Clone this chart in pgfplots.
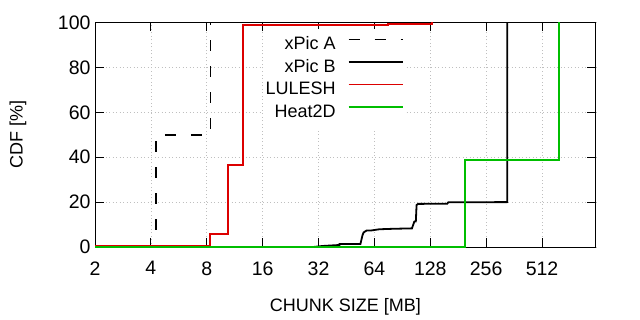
\documentclass[border=0pt]{standalone}
\usepackage{fontspec}
\setmainfont{Liberation Sans}
\usepackage{pgfplots}
\pgfplotsset{compat=1.18}
\definecolor{myred}{RGB}{220,0,0}
\definecolor{mygreen}{RGB}{0,190,0}
\begin{document}
\begin{tikzpicture}[font=\fontsize{18bp}{21bp}\selectfont]
\begin{axis}[
  scale only axis, width=501bp, height=224.5bp,
  at={(0,0)}, anchor=south west,
  xmode=log, log basis x=2, xmin=2, xmax=1000, ymin=0, ymax=100,
  xtick={2,4,8,16,32,64,128,256,512},
  xticklabels={2,4,8,16,32,64,128,256,512},
  ytick={0,20,40,60,80,100},
  xminorticks=false, yminorticks=false,
  /pgf/number format/assume math mode=true,
  tick label style={font=\fontsize{19.5bp}{22bp}\selectfont},
  tick align=inside, major tick length=9bp,
  tick style={black, line width=1bp},
  grid=major, grid style={dash pattern=on 1bp off 2.5bp, gray!50, line width=0.7bp},
  axis line style={line width=1bp},
  xticklabel style={yshift=-11bp},
  yticklabel style={xshift=-1bp},
  xlabel={CHUNK SIZE [MB]}, ylabel={CDF [\%]},
  x label style={at={(axis description cs:0.5,0)}, anchor=base, yshift=-64.5bp},
  y label style={at={(axis description cs:-0.1537,0.5)}, anchor=center, rotate=0},
  clip=false,
  legend style={at={(rel axis cs:0.622,1)}, anchor=north east, yshift=-6bp, draw=none, fill=white,
    inner xsep=3bp, inner ysep=8bp, row sep=6bp, column sep=12bp,
    nodes={inner sep=0pt, text height=13bp, text depth=3.5bp}},
  legend cell align=right, legend plot pos=right,
  legend image code/.code={\draw[#1] (0bp,5.5bp) -- (54bp,5.5bp);},
]
\addplot[black, line width=1.8bp, dash pattern=on 11bp off 15bp] coordinates {
 (2,0) (4.25,0) (4.25,50) (8.38,50) (8.38,100)};
\addlegendentry{xPic A}
\addplot[black, line width=1.8bp] coordinates {
 (2,0) (30,0) (33.6,0.45) (41.5,0.9) (41.5,1.3) (53.8,1.3) (55.2,5.2) (56,6.5)
 (58,7.3) (62,7.4) (68,7.9) (80,8.1) (102,8.3) (105,11.3) (107,11.4) (108,18.7)
 (110,19.2) (158,19.3) (160,19.9) (333,20) (333,100)};
\addlegendentry{xPic B}
\addplot[myred, line width=1.8bp] coordinates {
 (2,0.5) (8.3,0.5) (8.3,5.7) (10.4,5.7) (10.4,36.5) (12.6,36.5) (12.6,98.9)
 (75.6,98.9) (75.6,99.5) (131,99.5) (131,100)};
\addlegendentry{LULESH}
\addplot[mygreen, line width=1.8bp] coordinates {
 (2,0) (197.5,0) (197.5,38.6) (630,38.6) (630,100)};
\addlegendentry{Heat2D}
\end{axis}
\pgfresetboundingbox
\useasboundingbox (-95bp,-73bp) rectangle (545bp,247bp);
\end{tikzpicture}
\end{document}
